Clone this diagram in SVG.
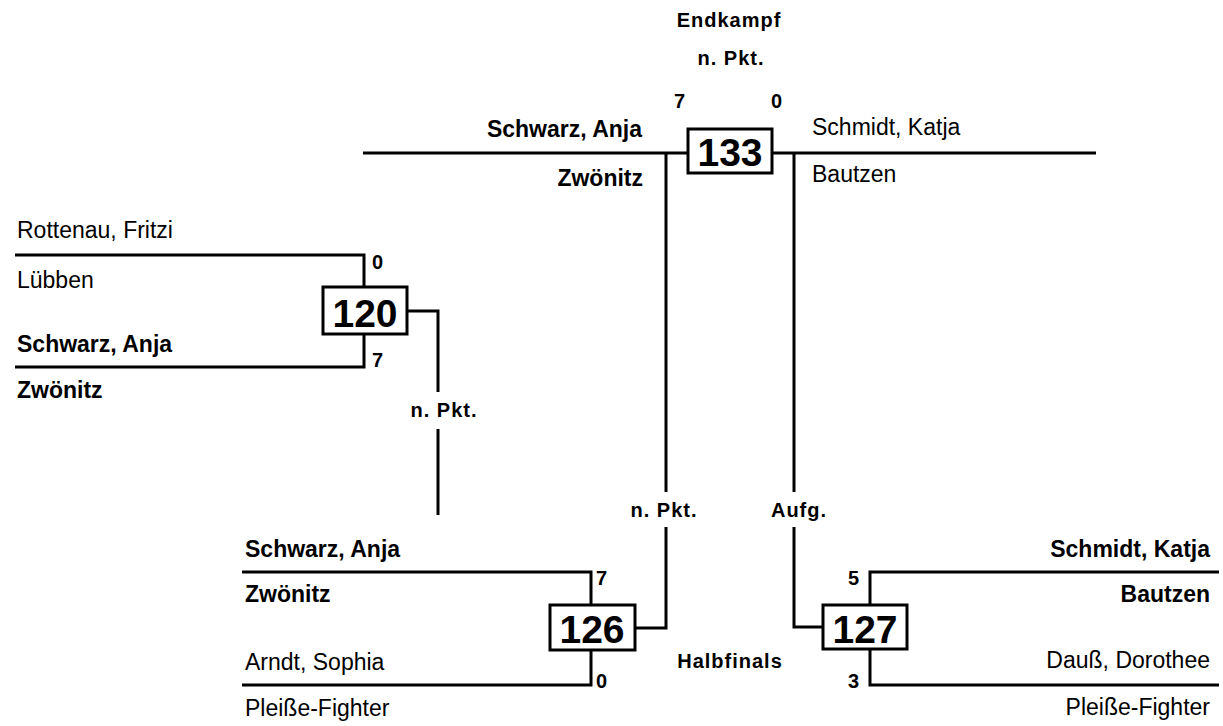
<svg xmlns="http://www.w3.org/2000/svg" width="1223" height="726" viewBox="0 0 1223 726">
<style>
.ln{fill:none;stroke:#000;stroke-width:3}
.box{fill:#fff;stroke:#000;stroke-width:3}
.num{font-family:"Liberation Sans",Arial,sans-serif;font-weight:bold;font-size:39px;text-anchor:middle;fill:#000}
.nm{font-family:"Liberation Sans",Arial,sans-serif;font-size:23px;fill:#000}
.b{font-weight:bold}
.e{text-anchor:end}
.sm{font-family:"Liberation Sans",Arial,sans-serif;font-weight:bold;font-size:20px;letter-spacing:1px;fill:#000}
.c{text-anchor:middle}
</style>
<rect width="1223" height="726" fill="#fff"/>
<g id="connectors">
<path class="ln" d="M363 153H1096"/>
<path class="ln" d="M666 153V492M666 527V628H635"/>
<path class="ln" d="M794 153V492M794 527V627H823"/>
<path class="ln" d="M15 255H364V287M364 334V367H15"/>
<path class="ln" d="M407 311H438V392M438 429V515"/>
<path class="ln" d="M242 572H591V605M591 650V685H242"/>
<path class="ln" d="M1219 572H870V605M870 649V685H1219"/>
</g>
<g id="labels">
<text class="sm c" x="729" y="27">Endkampf</text>
<text class="sm c" x="731" y="65">n. Pkt.</text>
<text class="sm" x="674" y="108">7</text>
<text class="sm" x="771" y="108">0</text>
<text class="sm c" x="444" y="417">n. Pkt.</text>
<text class="sm c" x="664" y="517">n. Pkt.</text>
<text class="sm c" x="799" y="517">Aufg.</text>
<text class="sm c" x="730" y="668">Halbfinals</text>
</g>
<g id="node133">
<rect class="box" x="688" y="129" width="84" height="44"/>
<text class="num" x="730" y="166">133</text>
<text class="nm b e" x="642" y="137">Schwarz, Anja</text>
<text class="nm b e" x="643" y="186">Zwönitz</text>
<text class="nm" x="812" y="135">Schmidt, Katja</text>
<text class="nm" x="812" y="182">Bautzen</text>
</g>
<g id="node120">
<rect class="box" x="323" y="287" width="84" height="47"/>
<text class="num" x="365" y="327">120</text>
<text class="sm" x="372" y="269">0</text>
<text class="sm" x="372" y="367">7</text>
<text class="nm" x="17" y="238">Rottenau, Fritzi</text>
<text class="nm" x="17" y="288">Lübben</text>
<text class="nm b" x="17" y="352">Schwarz, Anja</text>
<text class="nm b" x="17" y="398">Zwönitz</text>
</g>
<g id="node126">
<rect class="box" x="550" y="605" width="85" height="45"/>
<text class="num" x="592" y="643">126</text>
<text class="sm" x="596" y="585">7</text>
<text class="sm" x="596" y="688">0</text>
<text class="nm b" x="245" y="557">Schwarz, Anja</text>
<text class="nm b" x="245" y="602">Zwönitz</text>
<text class="nm" x="245" y="670">Arndt, Sophia</text>
<text class="nm" x="245" y="716">Pleiße-Fighter</text>
</g>
<g id="node127">
<rect class="box" x="823" y="605" width="84" height="44"/>
<text class="num" x="865" y="643">127</text>
<text class="sm e" x="860" y="585">5</text>
<text class="sm e" x="860" y="688">3</text>
<text class="nm b e" x="1210" y="557">Schmidt, Katja</text>
<text class="nm b e" x="1210" y="602">Bautzen</text>
<text class="nm e" x="1210" y="668">Dauß, Dorothee</text>
<text class="nm e" x="1210" y="715">Pleiße-Fighter</text>
</g>
</svg>
